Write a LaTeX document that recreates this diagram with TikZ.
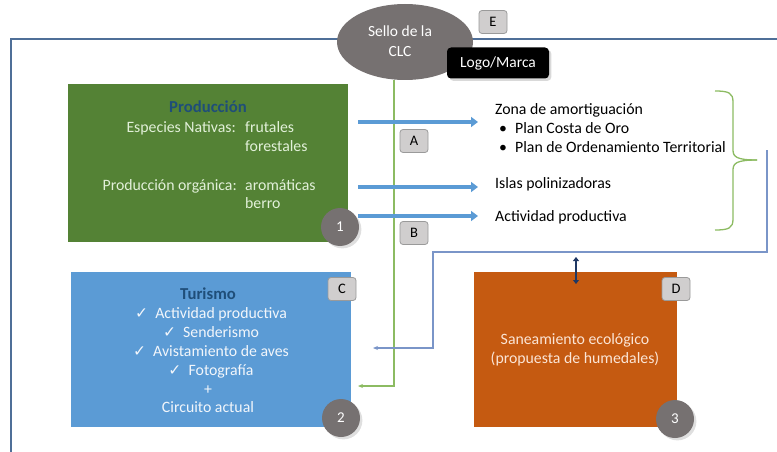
\documentclass[tikz,border=0pt]{standalone}
\usepackage{fontspec}
\setmainfont{Carlito}
\newfontfamily\symfont{DejaVu Sans}
\usetikzlibrary{arrows.meta,calc,shadows,shapes.geometric}
\definecolor{framec}{HTML}{4F6F98}
\definecolor{grayc}{HTML}{767171}
\definecolor{prodc}{HTML}{548235}
\definecolor{prodtxt}{HTML}{E2F0D9}
\definecolor{turc}{HTML}{5B9BD5}
\definecolor{turtxt}{HTML}{F2F6FB}
\definecolor{sanc}{HTML}{C55A11}
\definecolor{santxt}{HTML}{FBE5D6}
\definecolor{titlec}{HTML}{1F4E79}
\definecolor{arrc}{HTML}{5B9BD5}
\definecolor{greenl}{HTML}{8CBB62}
\definecolor{bluel}{HTML}{7A95C8}
\definecolor{navy}{HTML}{1F3864}
\definecolor{tagc}{HTML}{D0CECE}
\definecolor{tagb}{HTML}{9A9A9A}
\tikzset{
  txt/.style={font=\fontsize{15.8}{18}\selectfont, inner sep=0pt, anchor=base west},
  ttl/.style={font=\fontsize{16.7}{19}\selectfont\bfseries, text=titlec, inner sep=0pt, anchor=base},
  numc/.style={circle, fill=grayc, text=white, minimum size=38pt, inner sep=0pt, font=\fontsize{15}{17}\selectfont, drop shadow={opacity=0.25}},
  tag/.style={rectangle, rounded corners=3pt, fill=tagc, draw=tagb, line width=0.8pt, minimum width=28pt, minimum height=23pt, inner sep=0pt, font=\fontsize{14.5}{16}\selectfont},
  bigarr/.style={draw=arrc, line width=4pt, -{Triangle[length=7pt,width=10pt]}},
  box/.style={rectangle, inner sep=0pt, anchor=north west},
}
\newcommand{\chkmark}{{\symfont\fontsize{15.5}{17}\selectfont ✓}}
\begin{document}
\begin{tikzpicture}[x=1pt,y=-1pt]
\useasboundingbox (0,0) rectangle (777,452);
% frame
\draw[framec, line width=2pt] (11,452) -- (11,39) -- (777,39);
% boxes
\node[box, fill=prodc, minimum width=280pt, minimum height=158pt] (prod) at (68,84) {};
\node[box, fill=turc, minimum width=280pt, minimum height=155pt] (tur) at (71,272) {};
\node[box, fill=sanc, minimum width=203pt, minimum height=155pt] (san) at (474,272) {};
% green and blue connectors
\node[ellipse, fill=grayc, minimum width=136pt, minimum height=76pt, inner sep=0pt] (sello) at (405,42) {};
\coordinate (g1) at (394,80);
\coordinate (g2) at (394,386);
\coordinate (g3) at (358,386);
\draw[greenl, line width=1.3pt, -{Stealth[length=5pt,width=4pt]}] (g1) -- (g2) -- (g3);
\coordinate (b1) at (767,150);
\coordinate (b2) at (767,252);
\coordinate (b3) at (433,252);
\coordinate (b4) at (433,348);
\coordinate (b5) at (373,348);
\draw[bluel, line width=1.3pt, -{Stealth[length=5pt,width=4pt]}] (b1) -- (b2) -- (b3) -- (b4) -- (b5);
% ellipse text
\node[font=\fontsize{15.5}{20}\selectfont, text=white, align=center, inner sep=0pt] at (400,41) {Sello de la\\CLC};
\node[tag] (E) at (493,22) {E};
\node[rectangle, rounded corners=4pt, fill=black, text=white, minimum width=102pt, minimum height=31pt, inner sep=0pt, font=\fontsize{15.5}{17}\selectfont, drop shadow={opacity=0.3}] (logo) at (498,63) {Logo/Marca};
% production text
\node[ttl] at (208,113) {Producción};
\begin{scope}[every node/.append style={text=prodtxt}]
\node[txt, anchor=base east] at (236,132) {Especies Nativas:};
\node[txt] at (245,132) {frutales};
\node[txt] at (245,151) {forestales};
\node[txt, anchor=base east] at (237,190) {Producción orgánica:};
\node[txt] at (245,190) {aromáticas};
\node[txt] at (245,208) {berro};
\end{scope}
\node[numc] (n1) at (340,227) {1};
% targets
\node[txt] (zona) at (495,114) {Zona de amortiguación};
\node[txt] at (499,133) {•};
\node[txt] at (515,133) {Plan Costa de Oro};
\node[txt] at (499,152) {•};
\node[txt] at (515,152) {Plan de Ordenamiento Territorial};
\node[txt] (islas) at (495,188) {Islas polinizadoras};
\node[txt] (activ) at (495,221) {Actividad productiva};
\coordinate (a1) at (358,122);
\coordinate (a2) at (358,187);
\coordinate (a3) at (358,216);
\draw[bigarr] (a1) -- ($(a1 -| zona.west)+(-17,0)$);
\draw[bigarr] (a2) -- ($(a2 -| islas.west)+(-17,0)$);
\draw[bigarr] (a3) -- ($(a3 -| activ.west)+(-17,0)$);
\node[tag] (A) at (414,141) {A};
\node[tag] (B) at (414,233) {B};
% brace
\draw[greenl, line width=1.3pt] (715,91) .. controls (729,91) and (733,93) .. (733,102) -- (733,150) .. controls (733,157) and (737,160) .. (757,160);
\draw[greenl, line width=1.3pt] (757,160) .. controls (737,160) and (733,163) .. (733,170) -- (733,219) .. controls (733,228) and (729,230) .. (715,230);
% turismo text
\node[ttl] at (208,299) {Turismo};
\begin{scope}[every node/.append style={text=turtxt}]
\node[txt, anchor=base] at (211,318) {\chkmark\ \ Actividad productiva};
\node[txt, anchor=base] at (211,337) {\chkmark\ \ Senderismo};
\node[txt, anchor=base] at (211,356) {\chkmark\ \ Avistamiento de aves};
\node[txt, anchor=base] at (211,375) {\chkmark\ \ Fotografía};
\node[txt, anchor=base] at (208,394) {+};
\node[txt, anchor=base] at (208,412) {Circuito actual};
\end{scope}
\node[tag] (C) at (342,289) {C};
\node[numc] (n2) at (341,418) {2};
% saneamiento
\node[txt, anchor=base, text=santxt] at (575,344) {Saneamiento ecológico};
\node[txt, anchor=base, text=santxt] at (575,363) {(propuesta de humedales)};
\node[tag] (D) at (676,289) {D};
\node[numc] (n3) at (675,419) {3};
\coordinate (d1) at (576,257);
\coordinate (d2) at (576,284);
\draw[navy, line width=2.5pt, {Triangle[length=4pt,width=6pt]}-{Triangle[length=4pt,width=6pt]}] (d1) -- (d2);
\end{tikzpicture}
\end{document}
